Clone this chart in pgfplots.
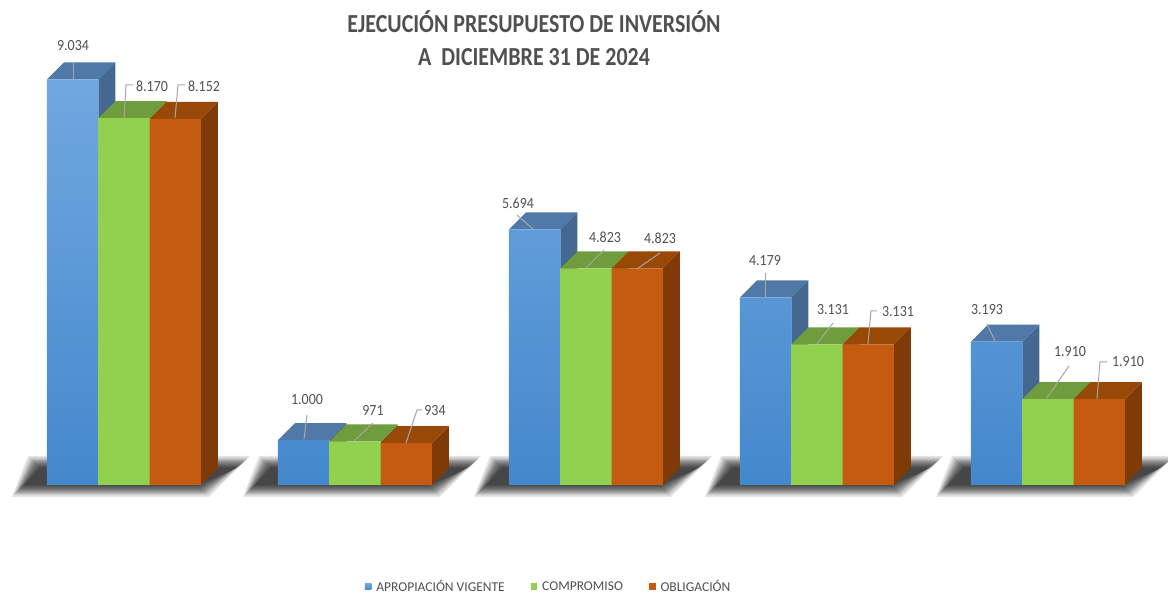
\documentclass[border=0pt]{standalone}
\usepackage{pgfplots}
\pgfplotsset{compat=1.18}
\usepackage{fontspec}
\setmainfont{Carlito}
\definecolor{aT}{HTML}{70A8E0}\definecolor{aB}{HTML}{4488CC}
\definecolor{aTop}{HTML}{5079A8}\definecolor{aSide}{HTML}{44688F}
\definecolor{bF}{HTML}{92D050}\definecolor{bTop}{HTML}{6F9C3D}\definecolor{bSide}{HTML}{587C30}
\definecolor{cF}{HTML}{C55A11}\definecolor{cTop}{HTML}{984807}\definecolor{cSide}{HTML}{7F3A08}
\definecolor{txt}{HTML}{505050}\definecolor{lead}{HTML}{A6A6A6}
% 1 px = 1/231 x unit; 1 px = 1/0.0449 y units
\newcommand\faces[5]{% group, bar(0,1,2), value, top colour, side colour
  \pgfmathsetmacro\La{#1+(#2-1.5)*51.3/231}
  \pgfmathsetmacro\Ra{\La+51.3/231}
  \pgfmathsetmacro\Lb{\La+17/231}
  \pgfmathsetmacro\Rb{\Ra+17/231}
  \pgfmathsetmacro\Yb{#3+17/0.0449}
  \pgfmathsetmacro\Db{17/0.0449}
  \addplot[fill=#5,draw=none,forget plot] coordinates {(\Ra,#3) (\Rb,\Yb) (\Rb,\Db) (\Ra,0)} -- cycle;
  \addplot[fill=#4,draw=none,forget plot] coordinates {(\La,#3) (\Lb,\Yb) (\Rb,\Yb) (\Ra,#3)} -- cycle;
}
\newcommand\shadowlayer[2]{% group, grow in px
  \pgfmathsetmacro\Xa{#1+(47-28-#2-124)/231}
  \pgfmathsetmacro\Xb{#1+(47+155+#2-124)/231}
  \pgfmathsetmacro\Xc{#1+(47+196+#2-124)/231}
  \pgfmathsetmacro\Xd{#1+(47-12-#2-124)/231}
  \pgfmathsetmacro\Ya{(485-490-#2)/0.0449}
  \pgfmathsetmacro\Yc{(485-463+#2)/0.0449}
  \addplot[fill=black,fill opacity=0.10,draw=none,forget plot] coordinates {(\Xa,\Ya) (\Xb,\Ya) (\Xc,\Yc) (\Xd,\Yc)} -- cycle;
}
\newcommand\shadow[1]{\shadowlayer{#1}{7}\shadowlayer{#1}{5.5}\shadowlayer{#1}{4}\shadowlayer{#1}{3}\shadowlayer{#1}{2}\shadowlayer{#1}{1}\shadowlayer{#1}{0}\shadowlayer{#1}{-1}\shadowlayer{#1}{-2}\shadowlayer{#1}{-3}\shadowlayer{#1}{-4}\shadowlayer{#1}{-5}}
\newcommand\group[4]{%
  \faces{#1}{0}{#2}{aTop}{aSide}
  \faces{#1}{1}{#3}{bTop}{bSide}
  \faces{#1}{2}{#4}{cTop}{cSide}
}
\begin{document}
\begin{tikzpicture}
\begin{axis}[
  scale only axis, width=1168pt, height=595pt, hide axis,
  xmin=-0.53680, xmax=4.51948, ymin=-2449.9, ymax=10801.8,
  legend style={draw=none,fill=none,at={(axis description cs:0.4697,0.0135)},anchor=center,
    legend columns=3,font=\fontsize{13.5}{16}\selectfont\color{txt},
    /tikz/every even column/.append style={column sep=24pt},
    /tikz/every odd column/.append style={column sep=3pt}},
  legend cell align=left,
]
\shadow{0}\shadow{1}\shadow{2}\shadow{3}\shadow{4}
\group{0}{9034}{8170}{8152}
\group{1}{1000}{971}{934}
\group{2}{5694}{4823}{4823}
\group{3}{4179}{3131}{3131}
\group{4}{3193}{1910}{1910}
\addplot[ybar,bar width=51.6pt,bar shift=-51.3pt,draw=none,top color=aT,bottom color=aB,
  legend image code/.code={\fill[aB] (0,-3pt) rectangle (6.5pt,3.5pt);}]
  coordinates {(0,9034) (1,1000) (2,5694) (3,4179) (4,3193)};
\addlegendentry{APROPIACIÓN VIGENTE}
\addplot[ybar,bar width=51.6pt,bar shift=0pt,draw=none,fill=bF,
  legend image code/.code={\fill[bF] (0,-3pt) rectangle (6.5pt,3.5pt);}]
  coordinates {(0,8170) (1,971) (2,4823) (3,3131) (4,1910)};
\addlegendentry{COMPROMISO}
\addplot[ybar,bar width=51.3pt,bar shift=51.3pt,draw=none,fill=cF,
  legend image code/.code={\fill[cF] (0,-3pt) rectangle (6.5pt,3.5pt);}]
  coordinates {(0,8152) (1,934) (2,4823) (3,3131) (4,1910)};
\addlegendentry{OBLIGACIÓN}
\end{axis}
\path[use as bounding box] (0,0) rectangle (1168pt,595pt);
\begin{scope}[x=1pt,y=-1pt,yshift=595pt]
  \begin{scope}[lead,line width=1pt]
    \draw (73,62)--(73,79);
    \draw (124,118)--(126,85)--(133,85);
    \draw (175,118)--(178,85)--(185,85);
    \draw (307,415)--(304,439);
    \draw (373,423)--(354,441);
    \draw (406,443)--(417,410)--(422,410);
    \draw (517,215)--(533,229);
    \draw (604,250)--(586,268);
    \draw (660,253)--(637,269);
    \draw (765,273)--(765,297);
    \draw (833,323)--(817,344);
    \draw (868,344)--(871,311)--(877,311);
    \draw (987,324)--(995,341);
    \draw (1069,366)--(1047,398);
    \draw (1097,399)--(1100,362)--(1107,362);
  \end{scope}
  \begin{scope}[every node/.style={text=txt,font=\fontsize{15.5}{17}\selectfont,inner sep=0pt,xscale=0.9}]
    \node at (73,46) {9.034};
    \node at (152,86) {8.170};
    \node at (204,86) {8.152};
    \node at (307,400) {1.000};
    \node at (373,410) {971};
    \node at (435,411) {934};
    \node at (518,203) {5.694};
    \node at (605,237) {4.823};
    \node at (660,238) {4.823};
    \node at (765,261) {4.179};
    \node at (833,310) {3.131};
    \node at (898,312) {3.131};
    \node at (987,310) {3.193};
    \node at (1070,352) {1.910};
    \node at (1128,362) {1.910};
  \end{scope}
  \node[text=txt,font=\fontsize{26}{28}\bfseries\selectfont,inner sep=0pt,xscale=0.844] at (534,22) {EJECUCIÓN PRESUPUESTO DE INVERSIÓN};
  \node[text=txt,font=\fontsize{26}{28}\bfseries\selectfont,inner sep=0pt,xscale=0.844] at (534,57) {A\ \ DICIEMBRE 31 DE 2024};
\end{scope}
\end{tikzpicture}
\end{document}
